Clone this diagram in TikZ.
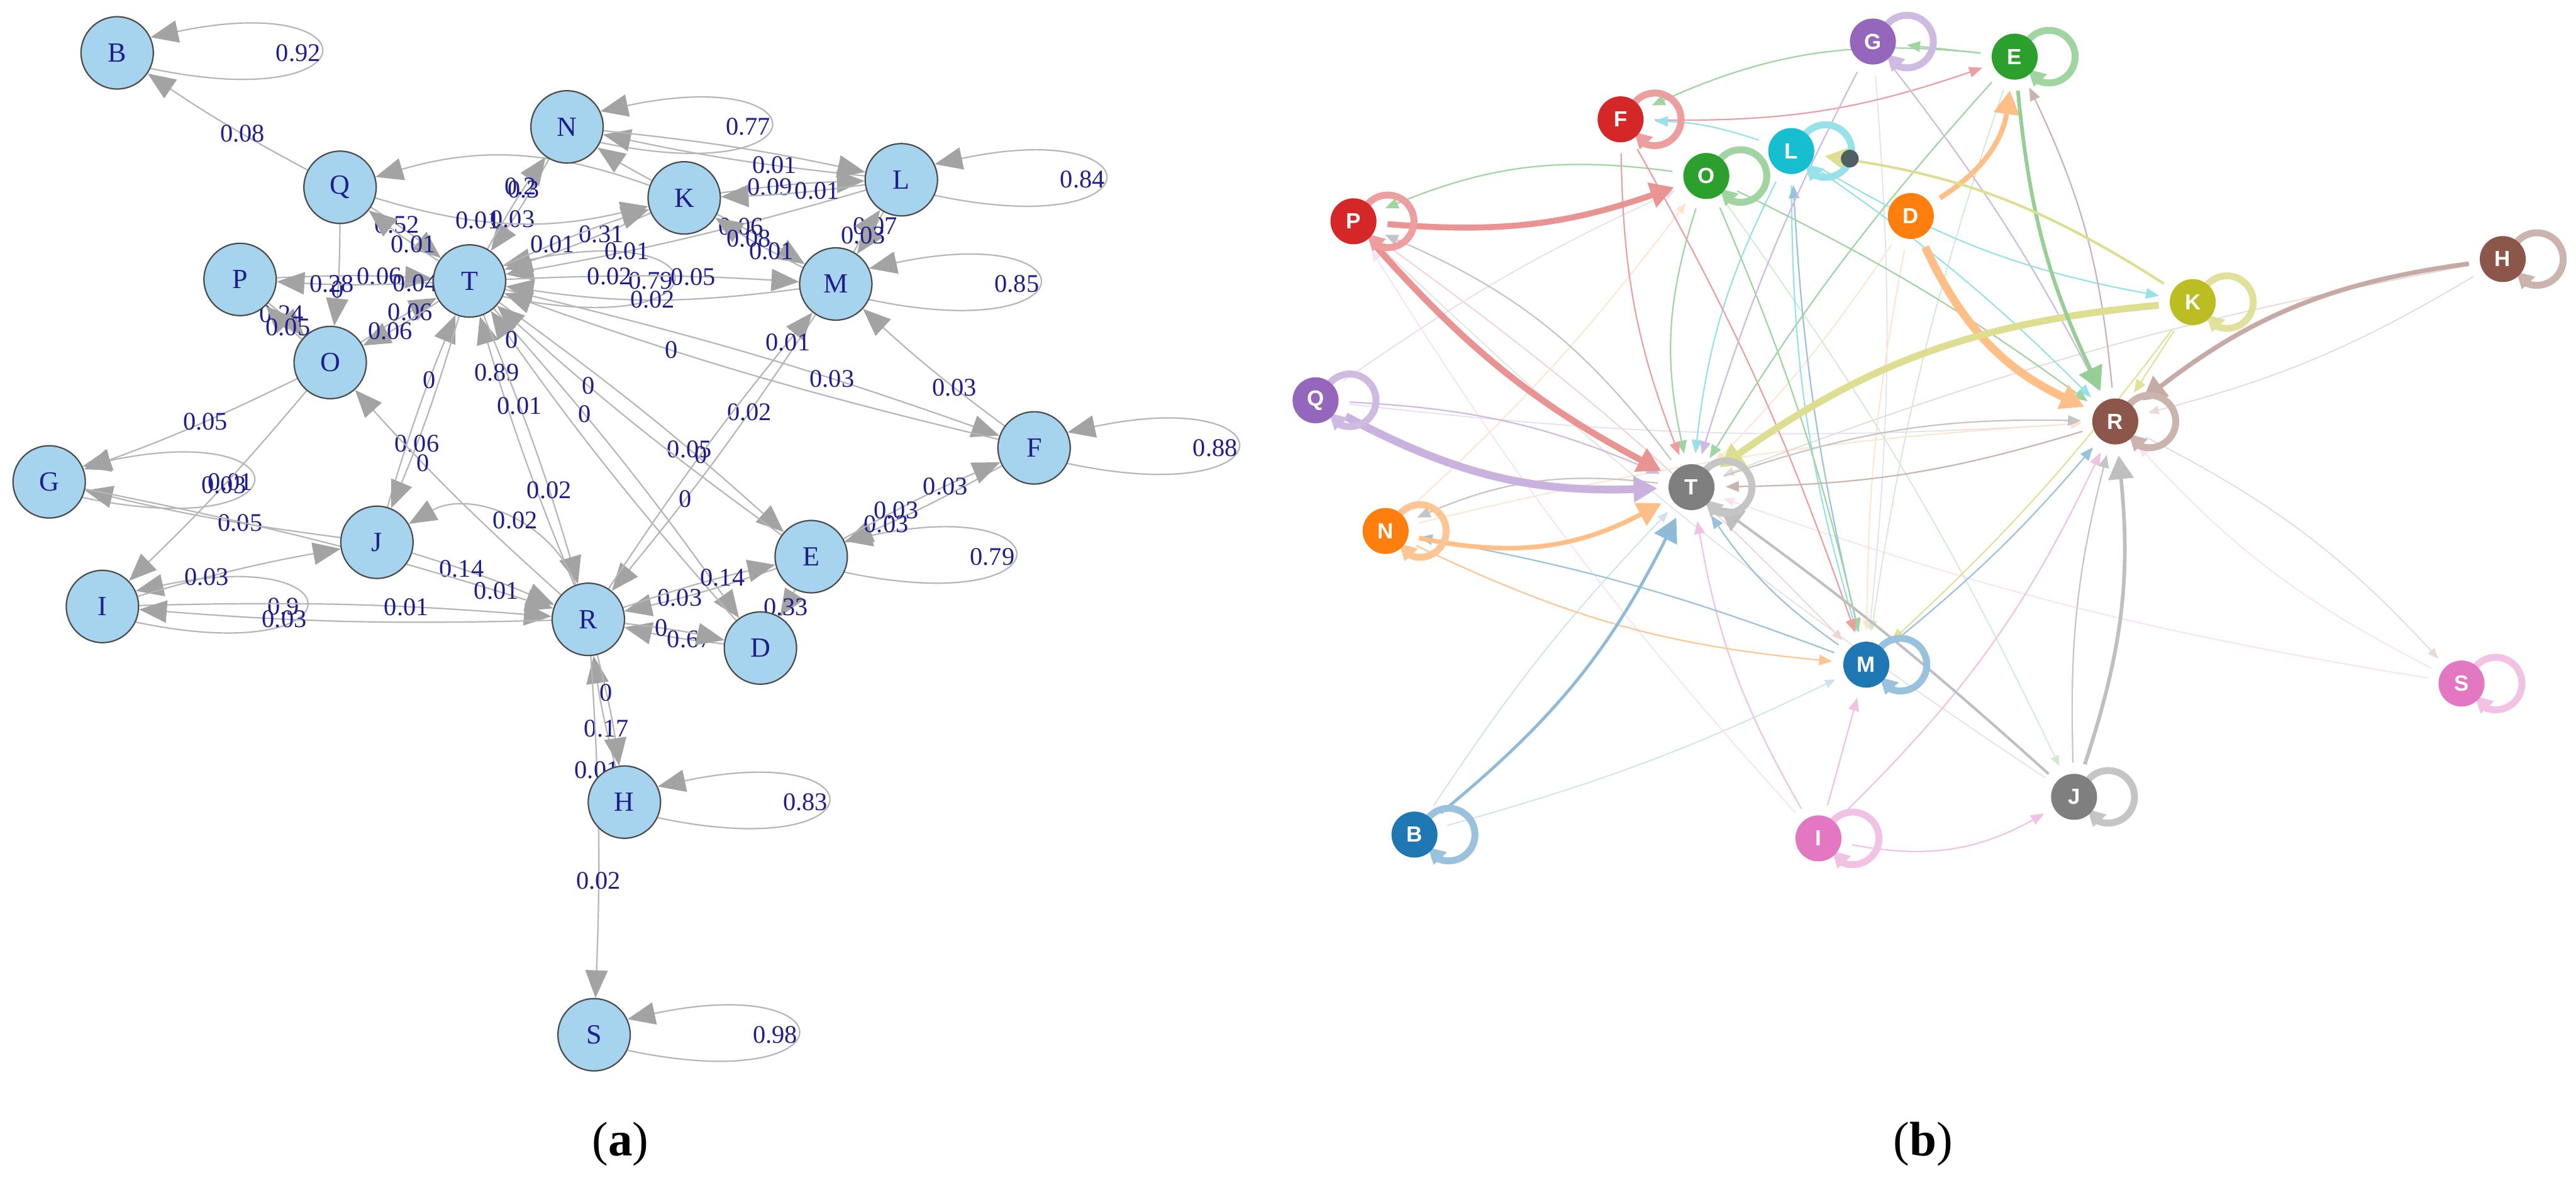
\documentclass[tikz,border=0pt]{standalone}
\usepackage{fontspec}
\setmainfont{Liberation Serif}
\newfontfamily\nodesans{Liberation Sans}
\usetikzlibrary{arrows.meta}

\definecolor{nodeblue}{RGB}{166,211,238}
\definecolor{edgegrey}{RGB}{182,182,182}
\definecolor{headgrey}{RGB}{163,163,163}
\definecolor{navy}{RGB}{30,30,140}
\definecolor{cblue}{HTML}{1F77B4}
\definecolor{corange}{HTML}{FF7F0E}
\definecolor{cgreen}{HTML}{2CA02C}
\definecolor{cred}{HTML}{D62728}
\definecolor{cpurple}{HTML}{9467BD}
\definecolor{cbrown}{HTML}{8C564B}
\definecolor{cpink}{HTML}{E377C2}
\definecolor{cgrey}{HTML}{7F7F7F}
\definecolor{colive}{HTML}{BCBD22}
\definecolor{ccyan}{HTML}{17BECF}
\definecolor{dotgrey}{RGB}{80,95,100}

\pgfdeclarelayer{edges}
\pgfsetlayers{edges,main}

\begin{document}
\begin{tikzpicture}[x=0.025cm,y=-0.025cm,
  anode/.style={circle,draw=black!70,line width=0.6pt,fill=nodeblue,minimum size=1.1cm,
                inner sep=0pt,text=navy,font=\fontsize{12}{12}\selectfont},
  aedge/.style={draw=edgegrey,line width=0.6pt,
                -{Triangle[length=0.42cm,width=0.34cm,color=headgrey]}},
  wlbl/.style={text=navy,inner sep=0pt,font=\fontsize{11}{11}\selectfont},
  bnode/.style={circle,fill=#1,minimum size=0.7cm,inner sep=0pt,outer sep=0.17cm,
                text=white,font=\nodesans\bfseries\fontsize{9.5}{9.5}\selectfont},
  ldot/.style={circle,fill=dotgrey,minimum size=0.27cm,inner sep=0pt},
  faint/.style={draw=#1!22,line width=0.5pt,-{Triangle[length=0.16cm,width=0.13cm]}},
  flow/.style={draw=#1!45,line width=0.6pt,-{Triangle[length=0.2cm,width=0.16cm]}},
  heavy/.style={draw=#1!50,-{Triangle[length=0.36cm,width=0.38cm]}},
  ring/.style={draw=#1!45,line width=3pt,-{Triangle[length=0.24cm,width=0.28cm]}},
  caption/.style={inner sep=0pt,font=\fontsize{21}{24}\selectfont}]

\useasboundingbox (0,0) rectangle (1568,721);

%% ---------- (a) weighted transition graph ----------
\begin{scope}[x=0.01246cm,y=-0.011493cm]
\node[anode] (aB) at (143,70) {B};
\node[anode] (aN) at (692,168) {N};
\node[anode] (aQ) at (415,248) {Q};
\node[anode] (aK) at (835,262) {K};
\node[anode] (aL) at (1100,238) {L};
\node[anode] (aP) at (293,370) {P};
\node[anode] (aT) at (573,372) {T};
\node[anode] (aM) at (1020,376) {M};
\node[anode] (aO) at (403,480) {O};
\node[anode] (aF) at (1262,593) {F};
\node[anode] (aG) at (60,638) {G};
\node[anode] (aJ) at (460,718) {J};
\node[anode] (aE) at (990,737) {E};
\node[anode] (aI) at (125,803) {I};
\node[anode] (aR) at (718,820) {R};
\node[anode] (aD) at (928,858) {D};
\node[anode] (aH) at (762,1062) {H};
\node[anode] (aS) at (725,1370) {S};
\node[caption] (capA) at (757,1515) {(\textbf{a})};

\begin{pgfonlayer}{edges}
% self-loops
\foreach \n/\w in {B/0.92,N/0.77,L/0.84,M/0.85,F/0.88,E/0.79,H/0.83,S/0.98,T/0.79,G/0.01,I/0.9}
  \draw[aedge] (a\n.-25) .. controls +(-12:3.5cm) and +(12:3.5cm) ..
    node[wlbl,pos=0.5,xshift=-0.32cm]{\w} (a\n.25);
% weighted edges
\foreach \src/\dst/\p/\w in {Q/B/0.39/0.08, Q/T/0.35/0.52, T/Q/0.34/0.01, N/T/0.66/0.03,
    P/T/0.67/0.06, Q/O/0.65/0, P/O/0.34/0.24, O/P/0.36/0.05, O/T/0.67/0.06,
    T/O/0.66/0.06, J/T/0.67/0, T/J/0.67/0.06, R/O/0.67/0, O/G/0.43/0.05,
    J/G/0.38/0.05, O/I/0.48/0.03, I/J/0.33/0.03, I/R/0.66/0.01, R/I/0.66/0.03,
    J/R/0.33/0.14, G/R/0.89/0.01, R/T/0.81/0.89, T/F/0.67/0.03, F/T/0.67/0,
    K/T/0.33/0.31, T/K/0.33/0.01, L/T/0.68/0.01, L/N/0.33/0.01, K/L/0.33/0.09,
    L/K/0.32/0.01, K/M/0.25/0.06, L/M/0.32/0.07, M/L/0.37/0.03, F/M/0.33/0.03,
    F/E/0.76/0.03, T/E/0.67/0.05, E/T/0.68/0, T/D/0.34/0, D/T/0.92/0,
    E/R/0.65/0.03, R/E/0.67/0.14, D/R/0.33/0.67, R/D/0.35/0, E/D/0.65/0.33,
    H/R/0.33/0.17, R/H/0.33/0}
  \draw[aedge] (a\src) to[bend left=3] node[wlbl,pos=\p]{\w} (a\dst);
% edges carrying two weights
\draw[aedge] (aT) to[bend left=3] node[wlbl,pos=0.65]{0.3}
  node[wlbl,pos=0.66,xshift=-1.5pt,yshift=1pt]{0.2} (aN);
\draw[aedge] (aT) to[bend left=3] node[wlbl,pos=0.66]{0.28} node[wlbl,pos=0.1]{0.04} (aP);
\draw[aedge] (aT) to[bend left=3] node[wlbl,pos=0.33]{0.01} node[wlbl,pos=0.67]{0.02} (aR);
\draw[aedge] (aM) to[bend left=3] node[wlbl,pos=0.33]{0.02} node[wlbl,pos=0.67]{0} (aR);
\draw[aedge] (aR) to[bend left=3] node[wlbl,pos=0.47]{0} node[wlbl,pos=0.9]{0.01} (aM);
\draw[aedge] (aR) to[bend left=3] node[wlbl,pos=0.32]{0.01} node[wlbl,pos=0.67]{0.02} (aS);
\draw[aedge] (aT) to[bend left=3] node[wlbl,pos=0.34]{0.02} node[wlbl,pos=0.65]{0.05} (aM);
\draw[aedge] (aM) to[bend left=8] node[wlbl,pos=0.5]{0.02} (aT);
\draw[aedge] (aM) to[bend left=3] node[wlbl,pos=0.34]{0.01} node[wlbl,pos=0.62]{0.08} (aK);
\draw[aedge] (aE) to[bend left=3] node[wlbl,pos=0.33]{0.03} node[wlbl,pos=0.67]{0.03} (aF);
% curved edges
\draw[aedge] (aQ) to[bend right=15] node[wlbl,pos=0.37]{0.01} (aK);
\draw[aedge] (aK) to[bend right=18] (aQ);
\draw[aedge] (aR) to[bend right=50] node[wlbl,pos=0.45]{0.02} (aJ);
\draw[aedge] (aK) to[bend left=3] (aN);
\draw[aedge] (aN) to[bend left=3] (aL);
\end{pgfonlayer}
\end{scope}

%% ---------- (b) coloured flow graph ----------
\begin{scope}[xshift=19.5375cm,x=0.012542cm,y=-0.011493cm]
\node[bnode=cpurple] (bG) at (714,55) {G};
\node[bnode=cgreen] (bE) at (886,75) {E};
\node[bnode=cred] (bF) at (408,158) {F};
\node[bnode=ccyan] (bL) at (615,200) {L};
\node[bnode=cgreen] (bO) at (512,233) {O};
\node[bnode=corange] (bD) at (760,286) {D};
\node[bnode=cred] (bP) at (84,293) {P};
\node[bnode=cbrown] (bH) at (1478,343) {H};
\node[bnode=colive] (bK) at (1102,400) {K};
\node[bnode=cpurple] (bQ) at (38,530) {Q};
\node[bnode=cbrown] (bR) at (1008,558) {R};
\node[bnode=cgrey] (bT) at (494,645) {T};
\node[bnode=corange] (bN) at (123,703) {N};
\node[bnode=cblue] (bM) at (706,880) {M};
\node[bnode=cpink] (bS) at (1428,905) {S};
\node[bnode=cgrey] (bJ) at (958,1055) {J};
\node[bnode=cblue] (bB) at (158,1105) {B};
\node[bnode=cpink] (bI) at (648,1110) {I};
\node[ldot] (bLdot) at (686,210) {};
\node[caption] (capB) at (775,1515) {(\textbf{b})};

\begin{pgfonlayer}{edges}
% faint flows
\foreach \src/\dst/\col/\bnd in {R/S/cbrown/10, S/R/cpink/10, H/R/cbrown/8, B/T/cblue/5,
    P/M/cred/5, Q/R/cpurple/-5, N/R/corange/5, B/M/cblue/-5, J/P/cgrey/5,
    S/T/cpink/5, H/T/cbrown/-5, G/M/cpurple/5, E/M/cgreen/-5, D/T/corange/5,
    D/M/corange/-5, I/P/cpink/5, N/O/corange/-5, Q/O/cpurple/5, O/J/cgreen/5}
  \draw[faint=\col] (b\src) to[bend left=\bnd] (b\dst);
% thin flows
\foreach \src/\dst/\col/\bnd in {O/P/cgreen/-15, F/E/cred/-10, E/F/cgreen/-15,
    O/T/cgreen/-15, L/T/ccyan/-10, L/M/ccyan/-8, M/L/cblue/5, O/M/cgreen/5,
    F/T/cred/-10, F/M/cred/5, T/P/cgrey/-15, E/T/cgreen/-5, G/R/cpurple/5,
    G/T/cpurple/-5, L/R/ccyan/5, O/R/cgreen/5, L/K/ccyan/-10, T/R/cgrey/10,
    R/T/cbrown/8, M/R/cblue/-5, M/T/cblue/10, I/T/cpink/10, I/M/cpink/0,
    I/R/cpink/-10, I/J/cpink/-20, J/R/cgrey/8, K/R/colive/0, K/M/colive/5,
    Q/T/cpurple/10, T/N/cgrey/-15, M/N/cblue/-5, N/M/corange/-10,
    R/E/cbrown/-10, L/F/ccyan/-8, E/G/cgreen/0}
  \draw[flow=\col] (b\src) to[bend left=\bnd] (b\dst);
% heavy flows
\foreach \src/\dst/\col/\bnd/\lw in {P/T/cred/-10/2.8, Q/T/cpurple/-15/3.4,
    N/T/corange/-20/2, B/T/cblue/-12/1.3, P/O/cred/-12/2.6, D/E/corange/-25/2.2,
    D/R/corange/-20/3.5, K/T/colive/-15/3, H/R/cbrown/-15/2, E/R/cgreen/-10/1.6,
    J/R/cgrey/-12/1.6, J/T/cgrey/-3/1.1, K/L/colive/-12/1.1}
  \draw[heavy=\col,line width=\lw pt] (b\src) to[bend left=\bnd] (b\dst);
% self-loops
\foreach \n/\col in {G/cpurple,E/cgreen,F/cred,L/ccyan,O/cgreen,P/cred,H/cbrown,
    K/colive,Q/cpurple,R/cbrown,T/cgrey,N/corange,M/cblue,S/cpink,J/cgrey,
    B/cblue,I/cpink}
  \draw[ring=\col] ([shift={(0.52cm,0cm)}]b\n.center) ++(150:0.4cm)
    arc[start angle=150,end angle=-120,radius=0.4cm] -- ++(-105:0.12cm);
\end{pgfonlayer}
\end{scope}

\end{tikzpicture}
\end{document}
